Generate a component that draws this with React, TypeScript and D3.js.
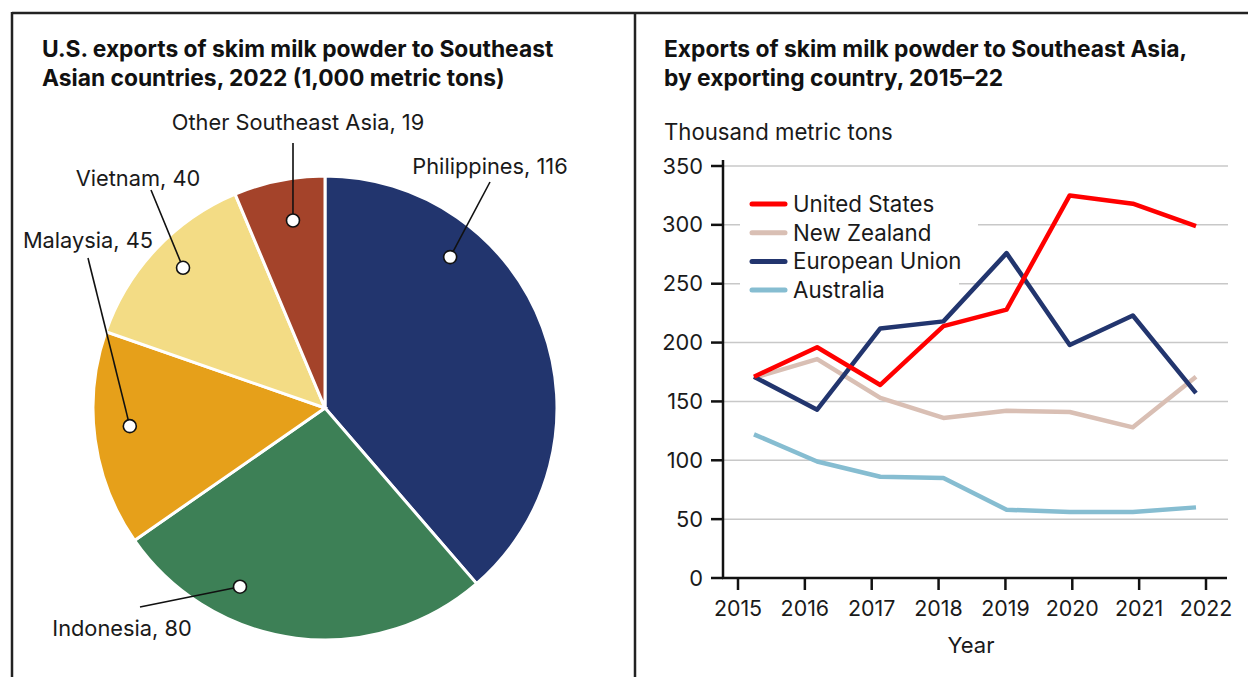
import React from 'react';
import * as d3 from 'd3';

// pie data: U.S. exports 2022, 1,000 metric tons
const pieNames = ['Philippines', 'Indonesia', 'Malaysia', 'Vietnam', 'Other Southeast Asia'];
const pieValues = [116, 80, 45, 40, 19];
const pieColors = ['#22356e', '#3d8056', '#e6a01a', '#f3dc85', '#a4432a'];

// line data
const years = [2015, 2016, 2017, 2018, 2019, 2020, 2021, 2022];
const seriesNames = ['United States', 'New Zealand', 'European Union', 'Australia'];
const usValues = [171, 196, 164, 214, 228, 325, 318, 299];
const nzValues = [170, 186, 153, 136, 142, 141, 128, 171];
const euValues = [171, 143, 212, 218, 276, 198, 223, 157];
const auValues = [122, 99, 86, 85, 58, 56, 56, 60];
const seriesColors = ['#ff0000', '#d9bfb4', '#22356e', '#86bdd1'];
const yTicks = [0, 50, 100, 150, 200, 250, 300, 350];

// where the dot sits inside each slice (fraction of slice span, fraction of radius)
// and where the leader line ends / label goes
const labelLayout = [
  { frac: 0.285, rad: 0.845, end: [490, 182], text: [490, 174] },
  { frac: 0.69, rad: 0.853, end: [140, 607], text: [122, 636] },
  { frac: 0.546, rad: 0.845, end: [88, 258], text: [88, 248] },
  { frac: 0.53, rad: 0.86, end: [151, 190], text: [138, 186] },
  { frac: 0.575, rad: 0.82, end: [293, 143], text: [298, 130] },
];

const FONT = 'Inter, Roboto, sans-serif';
const TITLE_FONT = 'Inter, Roboto, sans-serif';

function PieChart() {
  const cx = 325;
  const cy = 408;
  const r = 232;
  const pie = d3.pie<number>().sort(null).value((d) => d);
  const arcs = pie(pieValues);
  const arc = d3.arc<d3.PieArcDatum<number>>().innerRadius(0).outerRadius(r);

  return (
    <g>
      <g transform={`translate(${cx},${cy})`}>
        {arcs.map((a, i) => (
          <path key={i} d={arc(a)!} fill={pieColors[i]} stroke="#fff" strokeWidth={3} />
        ))}
      </g>
      {arcs.map((a, i) => {
        const lay = labelLayout[i];
        const ang = a.startAngle + (a.endAngle - a.startAngle) * lay.frac;
        const dr = r * lay.rad;
        const dx = cx + dr * Math.sin(ang);
        const dy = cy - dr * Math.cos(ang);
        return (
          <g key={i}>
            <line x1={lay.end[0]} y1={lay.end[1]} x2={dx} y2={dy} stroke="#111" strokeWidth={1.6} />
            <circle cx={dx} cy={dy} r={6.5} fill="#fff" stroke="#111" strokeWidth={1.6} />
            <text x={lay.text[0]} y={lay.text[1]} textAnchor="middle" fontFamily={FONT} fontSize={21.8} fill="#1a1a1a">
              {pieNames[i]}, {pieValues[i]}
            </text>
          </g>
        );
      })}
    </g>
  );
}

function LineChart() {
  const allSeries = [usValues, nzValues, euValues, auValues];
  const y = d3.scaleLinear().domain([0, 350]).range([578, 166]);
  const xData = d3.scaleLinear().domain([2015, 2022]).range([754, 1196]);
  const xTick = d3.scaleLinear().domain([2015, 2022]).range([738, 1206]);
  const axisX = 723;
  const line = d3
    .line<number>()
    .x((_, i) => xData(years[i]))
    .y((d) => y(d));

  // draw order: AU, NZ, EU, US on top
  const order = [3, 1, 2, 0];

  return (
    <g fontFamily={FONT} fill="#1a1a1a">
      {yTicks.filter((t) => t > 0).map((t) => (
        <line key={t} x1={axisX} x2={1228} y1={y(t)} y2={y(t)} stroke="#c8c8c8" strokeWidth={1.5} />
      ))}
      {/* legend backing */}
      <rect x={740} y={188} width={238} height={70} fill="#fff" />
      <rect x={740} y={258} width={219} height={44} fill="#fff" />
      {order.map((si) => (
        <path
          key={si}
          d={line(allSeries[si])!}
          fill="none"
          stroke={seriesColors[si]}
          strokeWidth={4.5}
          strokeLinejoin="round"
        />
      ))}
      {seriesNames.map((n, i) => (
        <g key={n} transform={`translate(0,${204 + i * 28.7})`}>
          <line x1={752} x2={785} y1={0} y2={0} stroke={seriesColors[i]} strokeWidth={5} strokeLinecap="round" />
          <text x={793} y={8} fontSize={22.3}>
            {n}
          </text>
        </g>
      ))}
      {/* axes */}
      <line x1={axisX} x2={axisX} y1={160} y2={579} stroke="#111" strokeWidth={2.5} />
      <line x1={axisX - 1} x2={1227} y1={578} y2={578} stroke="#111" strokeWidth={2.5} />
      {yTicks.map((t) => (
        <g key={t}>
          <line x1={711} x2={axisX} y1={y(t)} y2={y(t)} stroke="#111" strokeWidth={2.5} />
          <text x={703} y={y(t) + 7.5} textAnchor="end" fontSize={21.8}>
            {t}
          </text>
        </g>
      ))}
      {years.map((yr) => (
        <g key={yr}>
          <line x1={xTick(yr)} x2={xTick(yr)} y1={578} y2={590} stroke="#111" strokeWidth={2.5} />
          <text x={xTick(yr)} y={616} textAnchor="middle" fontSize={21.4}>
            {yr}
          </text>
        </g>
      ))}
      <text x={971} y={653} textAnchor="middle" fontSize={22}>
        Year
      </text>
      <text x={664} y={140} fontSize={22.2}>
        Thousand metric tons
      </text>
    </g>
  );
}

export default function App() {
  return (
    <svg
      width={1248}
      height={677}
      style={{ position: 'absolute', left: 0, top: 0, background: '#fff' }}
    >
      <rect width={1248} height={677} fill="#fff" />
      {/* frame */}
      <line x1={12} x2={1248} y1={13} y2={13} stroke="#222" strokeWidth={2.5} />
      <line x1={12} x2={12} y1={12} y2={677} stroke="#222" strokeWidth={2.5} />
      <line x1={635} x2={635} y1={12} y2={677} stroke="#222" strokeWidth={2.5} />

      <g fontFamily={TITLE_FONT} fontWeight={700} fontSize={22.8} fill="#111">
        <text x={42} y={57}>U.S. exports of skim milk powder to Southeast</text>
        <text x={42} y={86}>Asian countries, 2022 (1,000 metric tons)</text>
        <text x={664} y={57}>Exports of skim milk powder to Southeast Asia,</text>
        <text x={664} y={86}>by exporting country, 2015–22</text>
      </g>

      <PieChart />
      <LineChart />
    </svg>
  );
}
